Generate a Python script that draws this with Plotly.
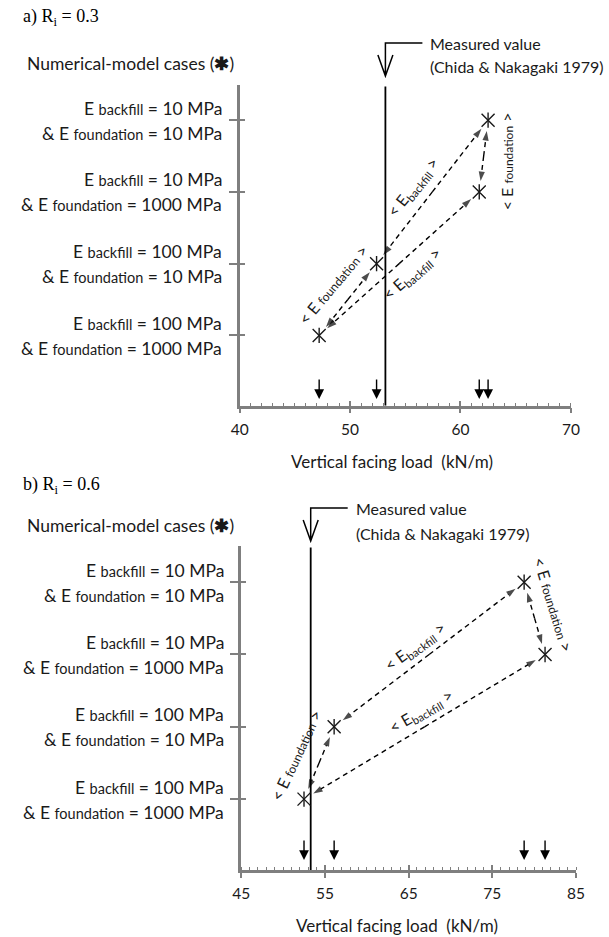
import math
import plotly.graph_objects as go

W, H = 609, 937

# ---------------- data ----------------
case_backfill = [10, 10, 100, 100]        # MPa
case_foundation = [10, 1000, 10, 1000]    # MPa
case_pos = [4, 3, 2, 1]
load_a = [62.5, 61.7, 52.4, 47.2]         # kN/m, Ri = 0.3
load_b = [78.8, 81.3, 56.1, 52.5]         # kN/m, Ri = 0.6
measured_a = 53.2
measured_b = 53.3
xticks_a = [40, 50, 60, 70]
xticks_b = [45, 55, 65, 75, 85]
backfill_pairs = [(0, 2), (1, 3)]
foundation_pairs = [(0, 1), (2, 3)]

FONT = "Lato"
INK = "#1a1a1a"
AXIS = "#7f7f7f"

panels = [
    dict(tag="a) R<sub>i</sub> = 0.3", loads=load_a, measured=measured_a, xticks=xticks_a,
         xr=[40, 70], yr=[0.02, 4.49], xd=[237.7, 579.0], yd=[85.0, 405.7],
         ids=("", "3"), tag_y=18, cases_y=63, meas_y=(43, 66), meas_tip=76,
         xtitle=(395, 462), tip_y=0.113, lab_shift=(12, -13), lab_dx=-16,
         labels={(0, 2): (0.55, -13.75, 11.65, -51, "b"),
                 (1, 3): (0.484, 10.9, -12.3, -41, "b"),
                 (0, 1): (0.577, 23.8, 0.0, -90, "f"),
                 (2, 3): (0.48, -16.2, 13.6, -50, "f")}),
    dict(tag="b) R<sub>i</sub> = 0.6", loads=load_b, measured=measured_b, xticks=xticks_b,
         xr=[45, 85], yr=[0.02, 4.5], xd=[239.3, 584.3], yd=[546.0, 870.0],
         ids=("2", "4"), tag_y=486, cases_y=525, meas_y=(508, 533), meas_tip=541,
         xtitle=(400, 925), tip_y=0.158, lab_shift=(12, -13), lab_dx=-15,
         labels={(0, 2): (0.53, -8.1, 12.3, -36, "b"),
                 (1, 3): (0.48, -8.3, 12.6, -30, "b"),
                 (0, 1): (0.4, 21.3, 6.8, 73, "f"),
                 (2, 3): (0.53, -22.6, 9.7, -65, "f")}),
]

fig = go.Figure()
annotations = []
shapes = []


def to_px(p, x, y):
    wp = p["xd"][1] - p["xd"][0]
    hp = p["yd"][1] - p["yd"][0]
    return ((x - p["xr"][0]) / (p["xr"][1] - p["xr"][0]) * wp,
            (y - p["yr"][0]) / (p["yr"][1] - p["yr"][0]) * hp)


def from_px(p, px, py):
    wp = p["xd"][1] - p["xd"][0]
    hp = p["yd"][1] - p["yd"][0]
    return (p["xr"][0] + px / wp * (p["xr"][1] - p["xr"][0]),
            p["yr"][0] + py / hp * (p["yr"][1] - p["yr"][0]))


for k, p in enumerate(panels):
    s_main, s_ov = p["ids"]
    xn, yn = "x" + s_main, "y" + s_main
    xo, yo = "x" + s_ov, "y" + s_ov
    loads = p["loads"]

    # measured vertical line
    fig.add_trace(go.Scatter(x=[p["measured"], p["measured"]], y=[p["yr"][0], p["yr"][1] - 0.02],
                             mode="lines", line=dict(color="black", width=1.8),
                             xaxis=xn, yaxis=yn, showlegend=False, hoverinfo="skip"))

    # dashed double-headed arrows
    gap = 11
    for (i, j) in backfill_pairs + foundation_pairs:
        ax_, ay_ = to_px(p, loads[i], case_pos[i])
        bx_, by_ = to_px(p, loads[j], case_pos[j])
        L = math.hypot(bx_ - ax_, by_ - ay_)
        ux, uy = (bx_ - ax_) / L, (by_ - ay_) / L
        A2 = from_px(p, ax_ + gap * ux, ay_ + gap * uy)
        B2 = from_px(p, bx_ - gap * ux, by_ - gap * uy)
        M = from_px(p, (ax_ + bx_) / 2, (ay_ + by_) / 2)
        for end in (A2, B2):
            fig.add_trace(go.Scatter(
                x=[M[0], end[0]], y=[M[1], end[1]], mode="lines+markers",
                line=dict(color="black", width=1.4, dash="5px,4px"),
                marker=dict(symbol="arrow", size=[0, 10], color="black", angleref="previous",
                            line=dict(width=0)),
                xaxis=xn, yaxis=yn, showlegend=False, hoverinfo="skip"))

    # case markers (x + vertical bar)
    fig.add_trace(go.Scatter(x=loads, y=case_pos, mode="markers",
                             marker=dict(symbol="x-thin-open", size=13, color=INK,
                                         line=dict(color=INK, width=1.4)),
                             xaxis=xn, yaxis=yn, showlegend=False, hoverinfo="skip"))
    fig.add_trace(go.Scatter(x=loads, y=case_pos, mode="markers",
                             marker=dict(symbol="line-ns-open", size=11, color=INK,
                                         line=dict(color=INK, width=1.4)),
                             xaxis=xn, yaxis=yn, showlegend=False, hoverinfo="skip"))

    # dummy traces to activate overlay axes (inner halves of crossing ticks)
    fig.add_trace(go.Scatter(x=[None], y=[None], xaxis=xo, yaxis=yn, showlegend=False, hoverinfo="skip"))
    fig.add_trace(go.Scatter(x=[None], y=[None], xaxis=xn, yaxis=yo, showlegend=False, hoverinfo="skip"))

    xdom = [p["xd"][0] / W, p["xd"][1] / W]
    ydom = [1 - p["yd"][1] / H, 1 - p["yd"][0] / H]
    fig.update_layout(**{
        "xaxis" + s_main: dict(domain=xdom, range=p["xr"], anchor=yn,
                               tickvals=p["xticks"], ticks="outside", ticklen=5, tickwidth=1.5,
                               tickcolor=AXIS, showline=True, linecolor=AXIS, linewidth=2.5,
                               showgrid=False, zeroline=False, ticklabelstandoff=3,
                               tickfont=dict(family=FONT, size=15.5, color=INK),
                               minor=dict(dtick=1, ticks="inside", ticklen=3, tickwidth=1,
                                          tickcolor=AXIS, showgrid=False)),
        "xaxis" + s_ov: dict(domain=xdom, range=p["xr"], anchor=yn, overlaying=xn, side="bottom",
                             tickvals=p["xticks"], ticks="inside", ticklen=5, tickwidth=1.5,
                             tickcolor=AXIS, showline=False, showgrid=False, zeroline=False,
                             showticklabels=False),
        "yaxis" + s_main: dict(domain=ydom, range=p["yr"], anchor=xn,
                               tickvals=case_pos, ticks="outside", ticklen=8, tickwidth=1.5,
                               tickcolor=AXIS, showline=True, linecolor=AXIS, linewidth=2.5,
                               showgrid=False, zeroline=False, showticklabels=False),
        "yaxis" + s_ov: dict(domain=ydom, range=p["yr"], anchor=xn, overlaying=yn, side="left",
                             tickvals=case_pos, ticks="inside", ticklen=5, tickwidth=1.5,
                             tickcolor=AXIS, showline=False, showgrid=False, zeroline=False,
                             showticklabels=False),
    })

    # y labels (two lines per case)
    for i in range(4):
        l1 = f"E <span style='font-size:14.5px'>backfill</span> = {case_backfill[i]} MPa"
        l2 = f"&amp; E <span style='font-size:14.5px'>foundation</span> = {case_foundation[i]} MPa"
        for txt, ys in ((l1, p["lab_shift"][0]), (l2, p["lab_shift"][1])):
            annotations.append(dict(text=txt, xref=xn + " domain", x=0, xanchor="right", xshift=p["lab_dx"],
                                    yref=yn, y=case_pos[i], yanchor="middle", yshift=ys,
                                    showarrow=False, font=dict(family=FONT, size=17.5, color=INK)))

    # labels on dashed arrows
    for (i, j), (t, dx, dy, ang, kind) in p["labels"].items():
        x = loads[i] + t * (loads[j] - loads[i])
        y = case_pos[i] + t * (case_pos[j] - case_pos[i])
        if kind == "b":
            txt = "&lt; E<sub>backfill</sub> &gt;"
        else:
            txt = "&lt; E <span style='font-size:12px'>foundation</span> &gt;"
        annotations.append(dict(text=txt, xref=xn, yref=yn, x=x, y=y, xshift=dx, yshift=dy,
                                textangle=ang, showarrow=False, xanchor="center", yanchor="middle",
                                font=dict(family=FONT, size=16, color=INK)))

    # bottom arrows
    for v in loads:
        annotations.append(dict(text="", xref=xn, yref=yn, x=v, y=p["tip_y"], ax=0, ay=-21,
                                showarrow=True, arrowhead=2, arrowsize=1.4, arrowwidth=1.4,
                                arrowcolor="black"))

    # measured value: elbow line with open V head
    rise = p["meas_tip"] - p["meas_y"][0]
    shapes.append(dict(type="path", xref=xn, xsizemode="pixel", xanchor=p["measured"],
                       yref="paper", ysizemode="pixel", yanchor=1 - p["meas_tip"] / H,
                       path=f"M37,{rise} L0,{rise} L0,0 M-7.5,21 L0,0 L7.5,21",
                       line=dict(color="black", width=1.5)))
    annotations.append(dict(text="Measured value", xref=xn, yref="paper", x=p["measured"], xshift=43,
                            xanchor="left", y=1 - p["meas_y"][0] / H, yanchor="middle", showarrow=False,
                            font=dict(family=FONT, size=16, color=INK)))
    annotations.append(dict(text="(Chida &amp; Nakagaki 1979)", xref=xn, yref="paper", x=p["measured"],
                            xshift=43, xanchor="left", y=1 - p["meas_y"][1] / H, yanchor="middle",
                            showarrow=False, font=dict(family=FONT, size=16, color=INK)))

    # panel tag, cases header, x title
    annotations.append(dict(text=p["tag"], xref="paper", yref="paper", x=12 / W, xanchor="left",
                            y=1 - p["tag_y"] / H, yanchor="middle", showarrow=False,
                            font=dict(family="Liberation Serif", size=18, color="black")))
    annotations.append(dict(text="Numerical-model cases (<b>✱</b>)", xref="paper", yref="paper",
                            x=17 / W, xanchor="left", y=1 - p["cases_y"] / H, yanchor="middle",
                            showarrow=False, font=dict(family=FONT, size=17.5, color=INK)))
    annotations.append(dict(text="Vertical facing load  (kN/m)", xref="paper", yref="paper",
                            x=p["xtitle"][0] / W, xanchor="center", y=1 - p["xtitle"][1] / H,
                            yanchor="middle", showarrow=False, font=dict(family=FONT, size=17, color=INK)))

fig.update_layout(width=W, height=H, margin=dict(l=0, r=0, t=0, b=0),
                  paper_bgcolor="white", plot_bgcolor="white", showlegend=False,
                  annotations=annotations, shapes=shapes)

fig.write_html("out.html")
